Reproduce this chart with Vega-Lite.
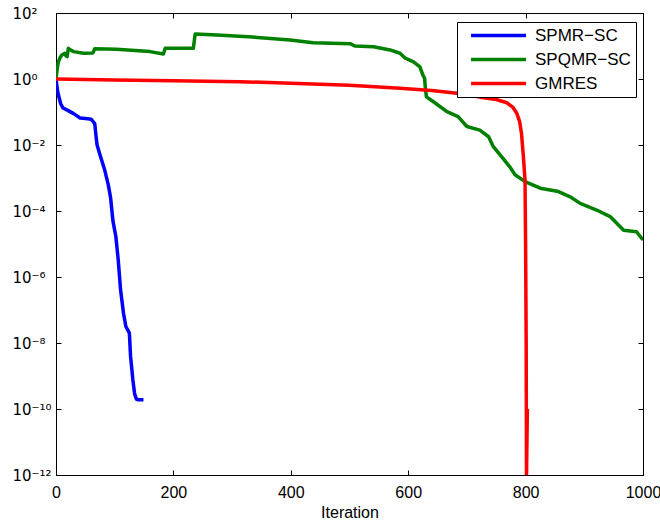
{
  "$schema": "https://vega.github.io/schema/vega-lite/v6.json",
  "width": 587,
  "height": 462,
  "autosize": "none",
  "padding": {"left": 56, "top": 13, "right": 17, "bottom": 52},
  "background": "white",
  "config": {
    "font": "Liberation Sans",
    "view": {"stroke": "black", "strokeWidth": 1},
    "axis": {
      "grid": false,
      "labelFlush": false,
      "domainColor": "black",
      "domainWidth": 1,
      "tickColor": "black",
      "tickSize": -5,
      "labelColor": "black",
      "labelFontSize": 16,
      "titleFontSize": 16,
      "titleFontWeight": "normal",
      "titleColor": "black"
    }
  },
  "data": {
    "values": [
      {"series": "SPMR−SC", "iteration": 0, "log10_residual": 0},
      {"series": "SPMR−SC", "iteration": 3, "log10_residual": -0.4},
      {"series": "SPMR−SC", "iteration": 8, "log10_residual": -0.75},
      {"series": "SPMR−SC", "iteration": 12, "log10_residual": -0.88},
      {"series": "SPMR−SC", "iteration": 20, "log10_residual": -0.95},
      {"series": "SPMR−SC", "iteration": 30, "log10_residual": -1.05},
      {"series": "SPMR−SC", "iteration": 41, "log10_residual": -1.18},
      {"series": "SPMR−SC", "iteration": 50, "log10_residual": -1.2},
      {"series": "SPMR−SC", "iteration": 60, "log10_residual": -1.22},
      {"series": "SPMR−SC", "iteration": 66, "log10_residual": -1.35},
      {"series": "SPMR−SC", "iteration": 68, "log10_residual": -1.7},
      {"series": "SPMR−SC", "iteration": 70, "log10_residual": -2.0},
      {"series": "SPMR−SC", "iteration": 75, "log10_residual": -2.3},
      {"series": "SPMR−SC", "iteration": 83, "log10_residual": -2.76},
      {"series": "SPMR−SC", "iteration": 89, "log10_residual": -3.2},
      {"series": "SPMR−SC", "iteration": 93, "log10_residual": -3.6},
      {"series": "SPMR−SC", "iteration": 97, "log10_residual": -4.3},
      {"series": "SPMR−SC", "iteration": 102, "log10_residual": -4.78},
      {"series": "SPMR−SC", "iteration": 106, "log10_residual": -5.48},
      {"series": "SPMR−SC", "iteration": 110, "log10_residual": -6.39},
      {"series": "SPMR−SC", "iteration": 115, "log10_residual": -7.1},
      {"series": "SPMR−SC", "iteration": 119, "log10_residual": -7.5},
      {"series": "SPMR−SC", "iteration": 125, "log10_residual": -7.7},
      {"series": "SPMR−SC", "iteration": 127, "log10_residual": -8.4},
      {"series": "SPMR−SC", "iteration": 131, "log10_residual": -9.12},
      {"series": "SPMR−SC", "iteration": 134, "log10_residual": -9.55},
      {"series": "SPMR−SC", "iteration": 137, "log10_residual": -9.7},
      {"series": "SPMR−SC", "iteration": 140, "log10_residual": -9.72},
      {"series": "SPMR−SC", "iteration": 149, "log10_residual": -9.72},

      {"series": "SPQMR−SC", "iteration": 0, "log10_residual": 0},
      {"series": "SPQMR−SC", "iteration": 2, "log10_residual": 0.3},
      {"series": "SPQMR−SC", "iteration": 4, "log10_residual": 0.52},
      {"series": "SPQMR−SC", "iteration": 7, "log10_residual": 0.65},
      {"series": "SPQMR−SC", "iteration": 10, "log10_residual": 0.73},
      {"series": "SPQMR−SC", "iteration": 15, "log10_residual": 0.78},
      {"series": "SPQMR−SC", "iteration": 17, "log10_residual": 0.7},
      {"series": "SPQMR−SC", "iteration": 19, "log10_residual": 0.68},
      {"series": "SPQMR−SC", "iteration": 21, "log10_residual": 0.93},
      {"series": "SPQMR−SC", "iteration": 25, "log10_residual": 0.88},
      {"series": "SPQMR−SC", "iteration": 30, "log10_residual": 0.83},
      {"series": "SPQMR−SC", "iteration": 47, "log10_residual": 0.78},
      {"series": "SPQMR−SC", "iteration": 63, "log10_residual": 0.79},
      {"series": "SPQMR−SC", "iteration": 66, "log10_residual": 0.92},
      {"series": "SPQMR−SC", "iteration": 103, "log10_residual": 0.9},
      {"series": "SPQMR−SC", "iteration": 160, "log10_residual": 0.83},
      {"series": "SPQMR−SC", "iteration": 183, "log10_residual": 0.76},
      {"series": "SPQMR−SC", "iteration": 186, "log10_residual": 0.93},
      {"series": "SPQMR−SC", "iteration": 234, "log10_residual": 0.93},
      {"series": "SPQMR−SC", "iteration": 237, "log10_residual": 1.36},
      {"series": "SPQMR−SC", "iteration": 274, "log10_residual": 1.33},
      {"series": "SPQMR−SC", "iteration": 328, "log10_residual": 1.28},
      {"series": "SPQMR−SC", "iteration": 399, "log10_residual": 1.18},
      {"series": "SPQMR−SC", "iteration": 438, "log10_residual": 1.1},
      {"series": "SPQMR−SC", "iteration": 501, "log10_residual": 1.07},
      {"series": "SPQMR−SC", "iteration": 509, "log10_residual": 1.0},
      {"series": "SPQMR−SC", "iteration": 541, "log10_residual": 0.98},
      {"series": "SPQMR−SC", "iteration": 569, "log10_residual": 0.88},
      {"series": "SPQMR−SC", "iteration": 586, "log10_residual": 0.78},
      {"series": "SPQMR−SC", "iteration": 595, "log10_residual": 0.63},
      {"series": "SPQMR−SC", "iteration": 609, "log10_residual": 0.52},
      {"series": "SPQMR−SC", "iteration": 620, "log10_residual": 0.37},
      {"series": "SPQMR−SC", "iteration": 625, "log10_residual": 0.12},
      {"series": "SPQMR−SC", "iteration": 628, "log10_residual": 0.02},
      {"series": "SPQMR−SC", "iteration": 629, "log10_residual": -0.23},
      {"series": "SPQMR−SC", "iteration": 631, "log10_residual": -0.54},
      {"series": "SPQMR−SC", "iteration": 643, "log10_residual": -0.69},
      {"series": "SPQMR−SC", "iteration": 666, "log10_residual": -0.99},
      {"series": "SPQMR−SC", "iteration": 685, "log10_residual": -1.14},
      {"series": "SPQMR−SC", "iteration": 700, "log10_residual": -1.44},
      {"series": "SPQMR−SC", "iteration": 722, "log10_residual": -1.55},
      {"series": "SPQMR−SC", "iteration": 737, "log10_residual": -1.75},
      {"series": "SPQMR−SC", "iteration": 745, "log10_residual": -2.05},
      {"series": "SPQMR−SC", "iteration": 759, "log10_residual": -2.35},
      {"series": "SPQMR−SC", "iteration": 773, "log10_residual": -2.66},
      {"series": "SPQMR−SC", "iteration": 782, "log10_residual": -2.9},
      {"series": "SPQMR−SC", "iteration": 799, "log10_residual": -3.11},
      {"series": "SPQMR−SC", "iteration": 825, "log10_residual": -3.31},
      {"series": "SPQMR−SC", "iteration": 856, "log10_residual": -3.41},
      {"series": "SPQMR−SC", "iteration": 876, "log10_residual": -3.57},
      {"series": "SPQMR−SC", "iteration": 893, "log10_residual": -3.77},
      {"series": "SPQMR−SC", "iteration": 921, "log10_residual": -3.97},
      {"series": "SPQMR−SC", "iteration": 944, "log10_residual": -4.17},
      {"series": "SPQMR−SC", "iteration": 967, "log10_residual": -4.58},
      {"series": "SPQMR−SC", "iteration": 989, "log10_residual": -4.63},
      {"series": "SPQMR−SC", "iteration": 1000, "log10_residual": -4.88},

      {"series": "GMRES", "iteration": 0, "log10_residual": 0},
      {"series": "GMRES", "iteration": 100, "log10_residual": -0.03},
      {"series": "GMRES", "iteration": 200, "log10_residual": -0.05},
      {"series": "GMRES", "iteration": 313, "log10_residual": -0.08},
      {"series": "GMRES", "iteration": 400, "log10_residual": -0.13},
      {"series": "GMRES", "iteration": 500, "log10_residual": -0.19},
      {"series": "GMRES", "iteration": 586, "log10_residual": -0.28},
      {"series": "GMRES", "iteration": 640, "log10_residual": -0.35},
      {"series": "GMRES", "iteration": 683, "log10_residual": -0.43},
      {"series": "GMRES", "iteration": 722, "log10_residual": -0.55},
      {"series": "GMRES", "iteration": 750, "log10_residual": -0.62},
      {"series": "GMRES", "iteration": 768, "log10_residual": -0.72},
      {"series": "GMRES", "iteration": 778, "log10_residual": -0.85},
      {"series": "GMRES", "iteration": 785, "log10_residual": -1.04},
      {"series": "GMRES", "iteration": 790, "log10_residual": -1.3},
      {"series": "GMRES", "iteration": 793, "log10_residual": -1.65},
      {"series": "GMRES", "iteration": 796, "log10_residual": -2.3},
      {"series": "GMRES", "iteration": 799, "log10_residual": -3.06},
      {"series": "GMRES", "iteration": 800, "log10_residual": -5.0},
      {"series": "GMRES", "iteration": 801, "log10_residual": -8.0},
      {"series": "GMRES", "iteration": 801.5, "log10_residual": -12.1},
      {"series": "GMRES", "iteration": 803, "log10_residual": -10.0}
    ]
  },
  "layer": [
    {
      "mark": {"type": "line", "strokeWidth": 3.5, "clip": true, "strokeJoin": "round"},
      "encoding": {
        "x": {
          "field": "iteration",
          "type": "quantitative",
          "scale": {"domain": [0, 1000], "nice": false},
          "axis": {"values": [0, 200, 400, 600, 800, 1000], "format": "d", "title": "Iteration", "labelPadding": 14, "titlePadding": 4}
        },
        "y": {
          "field": "log10_residual",
          "type": "quantitative",
          "scale": {"domain": [-12, 2], "nice": false, "zero": false},
          "axis": {
            "values": [-12, -10, -8, -6, -4, -2, 0, 2],
            "title": null,
            "labelAlign": "left",
            "labelPadding": 49,
            "labelFont": "DejaVu Sans",
            "labelFontSize": 15,
            "labelExpr": "datum.value == 2 ? '10²' : datum.value == 0 ? '10⁰' : datum.value == -2 ? '10⁻²' : datum.value == -4 ? '10⁻⁴' : datum.value == -6 ? '10⁻⁶' : datum.value == -8 ? '10⁻⁸' : datum.value == -10 ? '10⁻¹⁰' : '10⁻¹²'"
          }
        },
        "color": {
          "field": "series",
          "type": "nominal",
          "scale": {"domain": ["SPMR−SC", "SPQMR−SC", "GMRES"], "range": ["#0000ff", "#008000", "#ff0000"]},
          "legend": {
            "title": null,
            "orient": "none",
            "legendX": 401,
            "legendY": 9,
            "symbolType": "M0.1,0H10.1",
            "symbolSize": 121,
            "symbolStrokeWidth": 3.5,
            "labelFontSize": 17,
            "labelColor": "black",
            "labelOffset": 56,
            "rowPadding": 6,
            "padding": 5,
            "strokeColor": "black",
            "fillColor": "white"
          }
        },
        "detail": {"field": "series"}
      }
    },
    {
      "mark": {"type": "line", "strokeOpacity": 0},
      "encoding": {
        "x": {
          "field": "iteration",
          "type": "quantitative",
          "axis": {"orient": "top", "values": [0, 200, 400, 600, 800, 1000], "labels": false, "title": null}
        },
        "y": {
          "field": "log10_residual",
          "type": "quantitative",
          "axis": {"orient": "right", "values": [-12, -10, -8, -6, -4, -2, 0, 2], "labels": false, "title": null}
        },
        "detail": {"field": "series"}
      }
    }
  ],
  "resolve": {"axis": {"x": "independent", "y": "independent"}}
}
